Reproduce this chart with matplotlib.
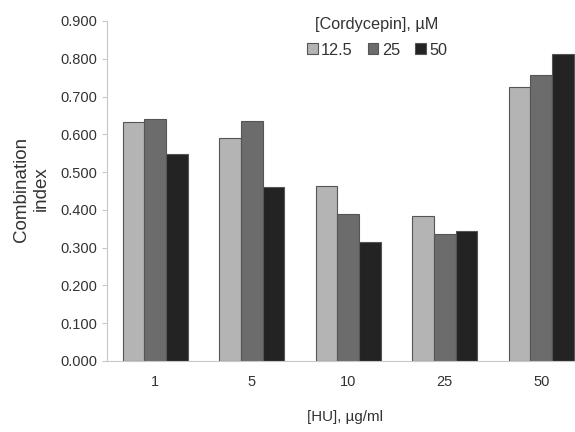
import matplotlib
matplotlib.use("Agg")
import matplotlib.pyplot as plt
import numpy as np
from matplotlib.patches import Patch

plt.rcParams['font.family'] = ['Liberation Sans', 'DejaVu Sans']

hu_labels = ["1", "5", "10", "25", "50"]
series_names = ["12.5", "25", "50"]
ci_12_5 = [0.632, 0.591, 0.463, 0.385, 0.724]
ci_25 = [0.641, 0.635, 0.389, 0.335, 0.756]
ci_50 = [0.548, 0.461, 0.316, 0.343, 0.812]
yticks = [0.0, 0.1, 0.2, 0.3, 0.4, 0.5, 0.6, 0.7, 0.8, 0.9]

colors = ["#b4b4b4", "#6c6c6c", "#232323"]
text_col = "#333333"

W, H = 575, 432
fig = plt.figure(figsize=(W / 100, H / 100), dpi=100)
left_px, bottom_px, top_px = 107, 361, 21
spacing = 96.5
ax = fig.add_axes([left_px / W, 1 - bottom_px / H, 5 * spacing / W, (bottom_px - top_px) / H])

x = np.arange(len(hu_labels))
bw = 0.223
for i, (vals, c) in enumerate(zip([ci_12_5, ci_25, ci_50], colors)):
    ax.bar(x + (i - 1) * bw, vals, width=bw, color=c, edgecolor="#555555", linewidth=0.8)

ax.set_xlim(-0.5, 4.5)
ax.set_ylim(0, 0.9)
ax.set_yticks(yticks)
ax.set_yticklabels([f"{v:.3f}" for v in yticks], fontsize=10.5, color=text_col)
ax.set_xticks(x)
ax.set_xticklabels(hu_labels, fontsize=10.5, color=text_col)
ax.tick_params(axis='x', length=0, pad=10)
ax.tick_params(axis='y', length=3.6, color="#c8c8c8", pad=3.6)
for s in ["top", "right"]:
    ax.spines[s].set_visible(False)
for s in ["left", "bottom"]:
    ax.spines[s].set_color("#c8c8c8")
    ax.spines[s].set_linewidth(0.8)

fig.text(345 / W, 1 - 417 / H, "[HU], µg/ml", ha="center", va="center", fontsize=10.9, color=text_col)
fig.text(31 / W, 1 - 189 / H, "Combination\nindex", ha="center", va="center", rotation=90,
         fontsize=13.5, color=text_col, linespacing=1.2)

handles = [Patch(facecolor=c, edgecolor="#555555", linewidth=0.8) for c in colors]
leg = fig.legend(handles, series_names, loc="upper center", bbox_to_anchor=(377 / W, 1 - 10 / H),
                 ncol=3, frameon=False, title="[Cordycepin], µM", fontsize=11.7, title_fontsize=11.7,
                 handlelength=0.65, handleheight=0.65, handletextpad=0.2, columnspacing=0.95,
                 borderaxespad=0, labelspacing=0.5)
leg._legend_box.sep = 8
for t in leg.get_texts():
    t.set_color(text_col)
leg.get_title().set_color(text_col)

fig.savefig("out.png", dpi=100)
